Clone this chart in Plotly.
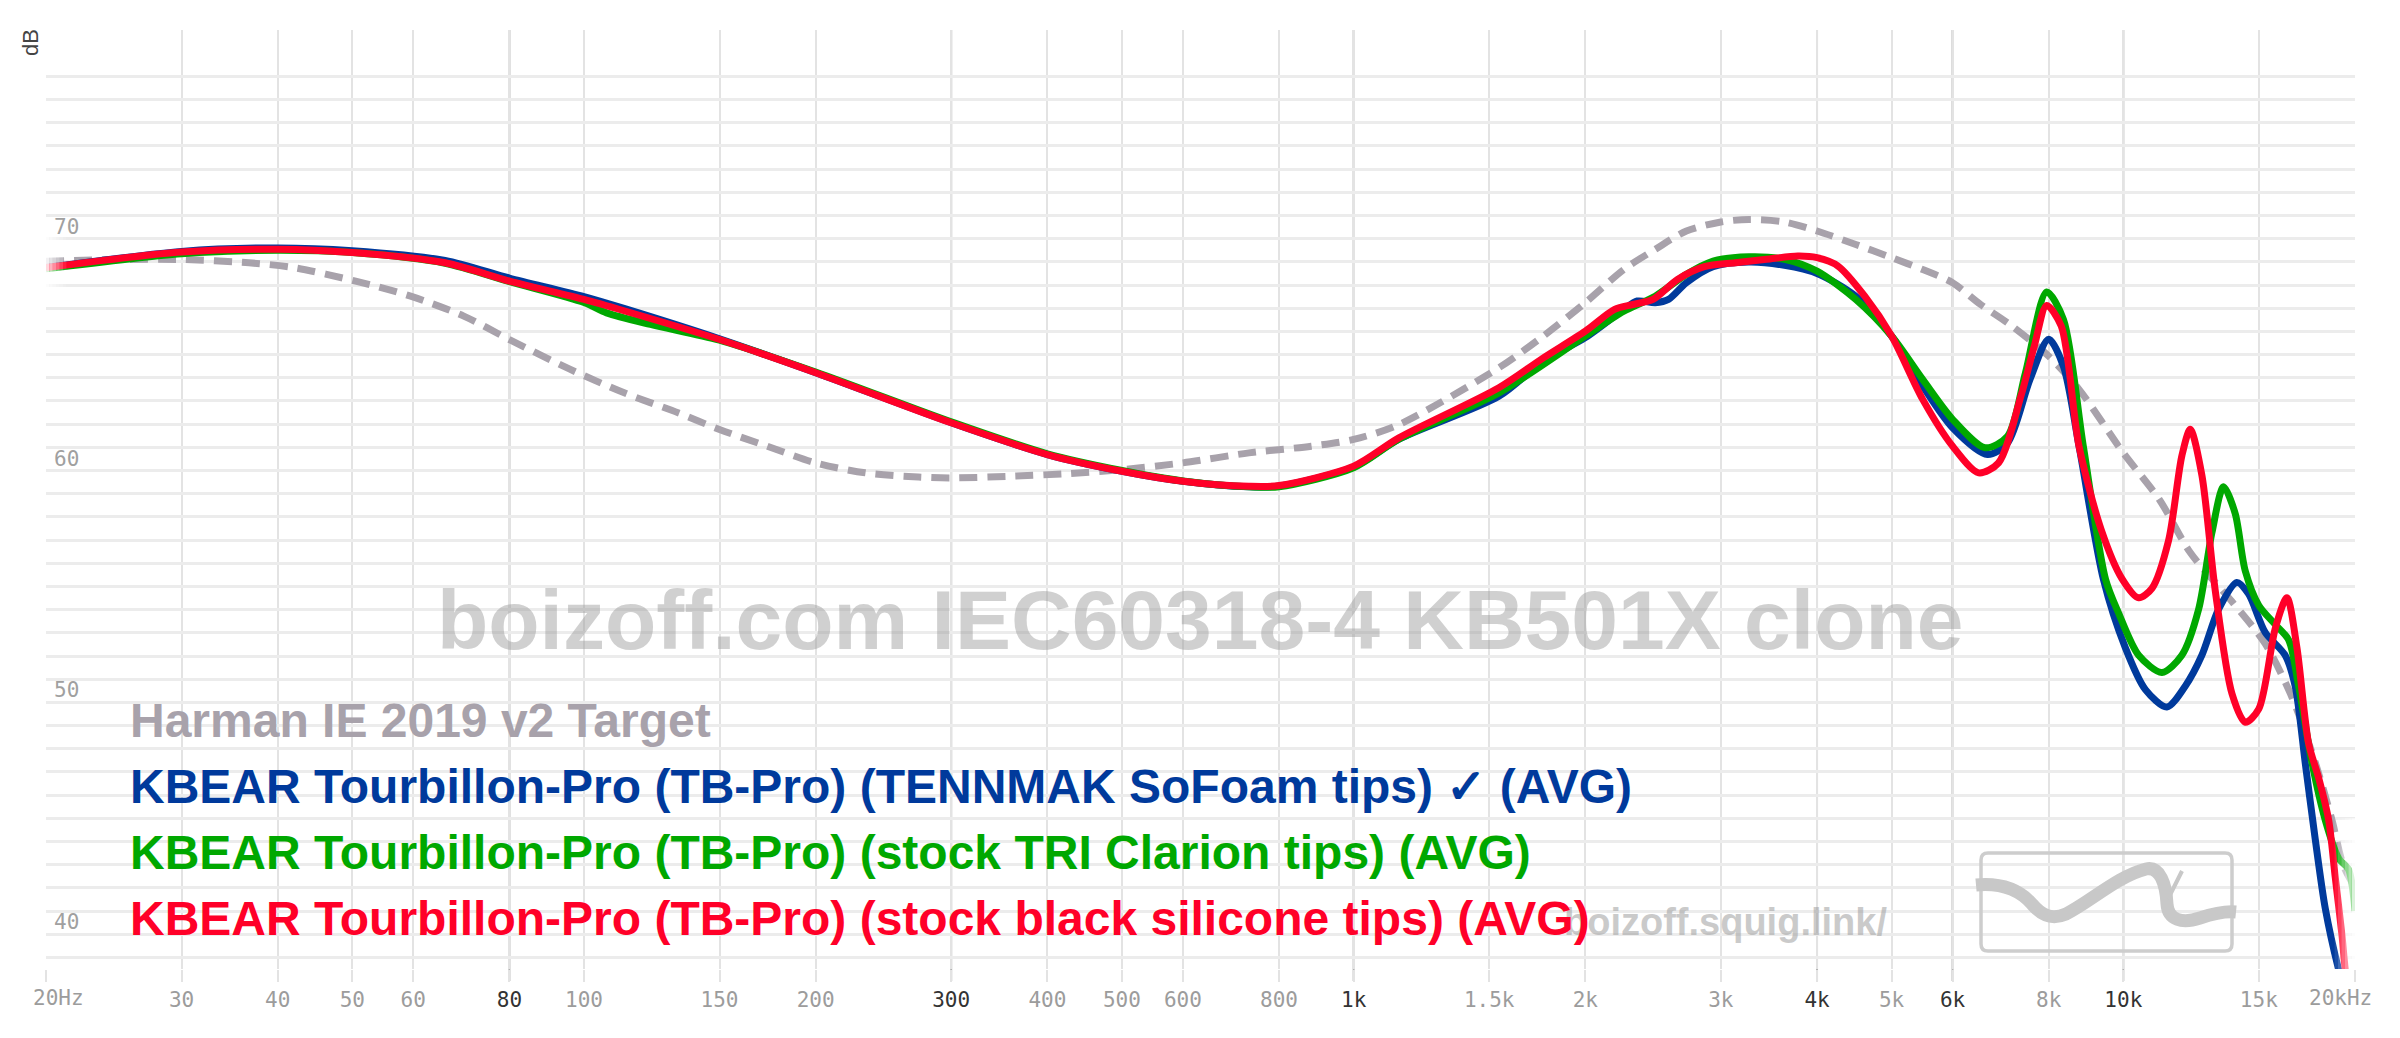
import numpy as np
import plotly.graph_objects as go

# ---- data (Hz, dB) ----
target_freq = [20, 24.6, 30.2, 36.7, 42, 50.5, 59.4, 69.8, 80, 96, 112.8, 132.5, 150, 173, 200, 232, 272,
               300, 356, 428, 500, 600, 731, 881, 1000, 1145, 1544, 1764, 2000, 2244, 2465, 2706, 3000,
               3262, 3629, 4000, 4491, 5000, 5487, 6000, 6525, 7168, 8000, 8759, 10000, 11137, 12223,
               13840, 15287, 16564, 17756, 18665, 19300, 20000]
target_db = [69.03, 69.1, 69.1, 68.96, 68.75, 68.17, 67.53, 66.66, 65.65, 64.36, 63.35, 62.49, 61.77,
             61.05, 60.33, 59.9, 59.72, 59.68, 59.75, 59.87, 60.04, 60.33, 60.76, 61.05, 61.34, 61.98,
             64.43, 65.8, 67.24, 68.67, 69.54, 70.33, 70.72, 70.83, 70.72, 70.33, 69.75, 69.18, 68.67,
             68.1, 67.16, 66.23, 64.93, 63.5, 60.76, 58.75, 56.45, 54.35, 52.53, 50.22, 47.41, 44.94,
             43.0, 42.0]

foam_freq = [20, 30, 40, 50, 66, 80, 100, 113, 150, 200, 300, 400, 500, 600, 731, 800, 1000, 1145,
             1544, 1764, 2000, 2244, 2336, 2465, 2565, 2706, 2931, 3262, 3629, 4000, 4491, 5000, 5487,
             6000, 6661, 7074, 7564, 8000, 8360, 8759, 9424, 10060, 10683, 11393, 12040, 12649, 13296,
             14045, 14543, 15287, 16230, 16721, 17230, 17756, 18295, 19040, 20000]
foam_db = [68.75, 69.45, 69.6, 69.48, 69.06, 68.3, 67.5, 66.98, 65.68, 64.22, 62.06, 60.69, 59.97,
           59.54, 59.3, 59.33, 60.15, 61.35, 63.2, 64.72, 65.73, 66.95, 67.31, 67.24, 67.38, 68.1,
           68.79, 68.99, 68.85, 68.5, 67.52, 65.8, 63.64, 61.84, 60.69, 61.19, 63.93, 65.66, 64.5,
           61.05, 55.29, 52.36, 50.55, 49.8, 50.71, 52.03, 54.01, 55.17, 54.68, 53.02, 52.03, 50.71,
           47.41, 44.11, 41.13, 38.49, 36.0]

clarion_freq = [20, 30, 40, 50, 66, 80, 100, 107, 122, 150, 200, 300, 400, 500, 600, 731, 800, 1000,
                1145, 1544, 2000, 2244, 2465, 2706, 2931, 3262, 3629, 4000, 4491, 5000, 5487, 6000,
                6615, 7074, 7463, 7951, 8360, 8872, 9486, 9860, 10470, 11224, 11914, 12526, 13034,
                13497, 13977, 14403, 15000, 15756, 16400, 16893, 17580, 18295, 19040, 19620, 20000]
clarion_db = [68.7, 69.35, 69.5, 69.4, 68.94, 68.15, 67.25, 66.8, 66.3, 65.62, 64.25, 62.1, 60.72,
              60.0, 59.55, 59.3, 59.3, 60.12, 61.35, 63.35, 65.8, 66.87, 67.52, 68.46, 69.03, 69.22,
              69.11, 68.6, 67.38, 65.8, 63.93, 62.21, 60.98, 61.48, 64.22, 67.7, 66.52, 61.05, 55.29,
              53.85, 52.03, 51.29, 52.03, 54.01, 57.31, 59.3, 58.14, 55.67, 54.18, 53.36, 52.69, 50.71,
              47.41, 44.93, 43.28, 42.79, 41.0]

silicone_freq = [20, 30, 40, 50, 66, 80, 100, 113, 150, 200, 300, 400, 500, 600, 731, 800, 1000, 1145,
                 1544, 1764, 2000, 2183, 2306, 2449, 2635, 2855, 3133, 3440, 3776, 4000, 4259, 4614,
                 5000, 5487, 6000, 6486, 6885, 7362, 7663, 7951, 8305, 8759, 9364, 9958, 10470, 10895,
                 11451, 11914, 12218, 12649, 13164, 13840, 14403, 15000, 15756, 16315, 16810, 17408,
                 17937, 18482, 18853, 19234, 19428, 20000]
silicone_db = [68.75, 69.42, 69.54, 69.4, 68.96, 68.17, 67.38, 66.88, 65.65, 64.22, 62.06, 60.69,
               59.97, 59.54, 59.32, 59.35, 60.19, 61.41, 63.57, 64.86, 66.01, 66.95, 67.16, 67.38,
               68.24, 68.79, 68.96, 69.11, 69.25, 69.18, 68.82, 67.52, 65.8, 63.07, 61.05, 59.9,
               60.33, 63.21, 65.37, 67.12, 66.23, 61.05, 57.43, 55.34, 54.51, 54.92, 56.99, 60.63,
               61.78, 59.8, 54.84, 50.38, 49.14, 49.72, 53.19, 54.51, 52.36, 48.23, 46.75, 44.93,
               42.45, 39.97, 38.49, 36.0]

names = ["Harman IE 2019 v2 Target",
         "KBEAR Tourbillon-Pro (TB-Pro) (TENNMAK SoFoam tips) \u2713 (AVG)",
         "KBEAR Tourbillon-Pro (TB-Pro) (stock TRI Clarion tips) (AVG)",
         "KBEAR Tourbillon-Pro (TB-Pro) (stock black silicone tips) (AVG)"]
colors = ["#a8a2ab", "#003a9c", "#00a800", "#ff0028"]

tick_freqs = [20, 30, 40, 50, 60, 80, 100, 150, 200, 300, 400, 500, 600, 800,
              1000, 1500, 2000, 3000, 4000, 5000, 6000, 8000, 10000, 15000, 20000]
tick_labels = ["", "30", "40", "50", "60", "80", "100", "150", "200", "300", "400", "500", "600", "800",
               "1k", "1.5k", "2k", "3k", "4k", "5k", "6k", "8k", "10k", "15k", ""]
major_freqs = [80, 300, 1000, 4000, 6000, 10000]
y_labels = [40, 50, 60, 70]

# ---- figure ----
# the page body has an 8px margin, so the figure sits 8px right/down in the screenshot
OFF = 8
W, H = 2400, 1038
ML, MT = 38, 22
MR, MB = 53, 77
PW, PH = W - ML - MR, H - MT - MB


def paper(x, y):
    # position in the screenshot (px) -> paper coordinates
    return (x - OFF - ML) / PW, (H - MB - (y - OFF)) / PH


fig = go.Figure()
series = [(target_freq, target_db), (foam_freq, foam_db), (clarion_freq, clarion_db),
          (silicone_freq, silicone_db)]
for i, (f, d) in enumerate(series):
    line = dict(color=colors[i], width=7, shape="spline", smoothing=0.8)
    if i == 0:
        line["dash"] = "18px,10px"
    fig.add_trace(go.Scatter(x=f, y=d, mode="lines", line=line, name=names[i],
                             hoverinfo="skip", showlegend=False))

ticktext = []
for f, t in zip(tick_freqs, tick_labels):
    if f in major_freqs:
        ticktext.append("<span style='color:#333333'>" + t + "</span>")
    else:
        ticktext.append(t)

fig.update_xaxes(type="log", range=[np.log10(20), np.log10(20000)],
                 tickmode="array", tickvals=tick_freqs, ticktext=ticktext,
                 showgrid=True, gridcolor="#e3e3e3", gridwidth=2,
                 ticks="outside", ticklen=12, tickwidth=2, tickcolor="#e3e3e3",
                 tickfont=dict(family="DejaVu Sans Mono", size=21, color="#9c9c9c"),
                 zeroline=False, showline=False)
fig.update_yaxes(range=[38.5, 79], tickmode="array", tickvals=list(range(39, 78)),
                 showticklabels=False, showgrid=True, gridcolor="#ececec", gridwidth=2.5,
                 zeroline=False, showline=False)

shapes = []
for f in major_freqs:
    shapes.append(dict(type="line", xref="x", yref="paper", x0=f, x1=f, y0=-12 / PH, y1=1,
                       line=dict(color="#b2b2b2", width=2), layer="between"))

# fade of the curves at both ends
x_left = OFF + ML
x_right = OFF + ML + PW
for k, op in enumerate([0.85, 0.7, 0.55, 0.4, 0.25, 0.1]):
    x0, _ = paper(x_left + k * 3.4, 0)
    x1, _ = paper(x_left + (k + 1) * 3.4, 0)
    shapes.append(dict(type="rect", xref="paper", yref="y", x0=x0, x1=x1, y0=67.3, y1=70.6,
                       line=dict(width=0), fillcolor="white", opacity=op, layer="above"))
    x0, _ = paper(x_right - (k + 1) * 3.4, 0)
    x1, _ = paper(x_right - k * 3.4, 0)
    shapes.append(dict(type="rect", xref="paper", yref="y", x0=x0, x1=x1, y0=38.5, y1=45,
                       line=dict(width=0), fillcolor="white", opacity=op, layer="above"))


# logo: rounded box with squiggle
def path(cmds):
    out = []
    for c in cmds:
        if isinstance(c, str):
            out.append(c)
        else:
            px, py = paper(*c)
            out.append("%.5f,%.5f" % (px, py))
    return " ".join(out)


r = 7
bx0, by0, bx1, by1 = 1981, 853, 2232, 951
box = path(["M", (bx0 + r, by0), "L", (bx1 - r, by0), "Q", (bx1, by0), (bx1, by0 + r),
            "L", (bx1, by1 - r), "Q", (bx1, by1), (bx1 - r, by1), "L", (bx0 + r, by1),
            "Q", (bx0, by1), (bx0, by1 - r), "L", (bx0, by0 + r), "Q", (bx0, by0), (bx0 + r, by0), "Z"])
shapes.append(dict(type="path", xref="paper", yref="paper", path=box,
                   line=dict(color="#cdcdcd", width=3.5)))
squiggle = path(["M", (1976, 885), "C", (1998, 883), (2018, 888), (2032, 904),
                 "C", (2042, 916), (2052, 920), (2066, 914),
                 "C", (2090, 902), (2118, 876), (2146, 869),
                 "C", (2160, 866), (2166, 884), (2167, 904),
                 "C", (2168, 920), (2182, 924), (2200, 918),
                 "C", (2215, 913), (2226, 911), (2236, 912)])
shapes.append(dict(type="path", xref="paper", yref="paper", path=squiggle,
                   line=dict(color="#c8c8c8", width=13)))
shapes.append(dict(type="path", xref="paper", yref="paper",
                   path=path(["M", (2182, 871), "L", (2168, 899)]),
                   line=dict(color="#c8c8c8", width=4)))

annotations = []
for v in y_labels:
    annotations.append(dict(x=0, xref="paper", xanchor="left", xshift=6, y=v, yref="y",
                            yanchor="middle", yshift=12, text=str(v), showarrow=False,
                            font=dict(family="DejaVu Sans Mono", size=21, color="#a0a0a0")))
annotations.append(dict(x=np.log10(20), xref="x", xanchor="left", xshift=-15, y=0, yref="paper",
                        yanchor="middle", yshift=-29, text="20Hz", showarrow=False,
                        font=dict(family="DejaVu Sans Mono", size=21, color="#9c9c9c")))
annotations.append(dict(x=np.log10(20000), xref="x", xanchor="right", xshift=19, y=0, yref="paper",
                        yanchor="middle", yshift=-29, text="20kHz", showarrow=False,
                        font=dict(family="DejaVu Sans Mono", size=21, color="#9c9c9c")))
dx, dy = paper(31, 43)
annotations.append(dict(x=dx, y=dy, xref="paper", yref="paper", text="dB", textangle=-90,
                        xanchor="center", yanchor="middle", showarrow=False,
                        font=dict(family="Liberation Sans", size=22, color="#444444")))

wx, wy = paper(1200, 620)
annotations.append(dict(x=wx, y=wy, xref="paper", yref="paper", text="boizoff.com IEC60318-4 KB501X clone",
                        showarrow=False, xanchor="center", yanchor="middle",
                        font=dict(family="Liberation Sans", size=84, color="rgba(150,150,150,0.45)",
                                  weight="bold")))
sx, sy = paper(1562, 922)
annotations.append(dict(x=sx, y=sy, xref="paper", yref="paper", text="boizoff.squig.link/",
                        showarrow=False, xanchor="left", yanchor="middle",
                        font=dict(family="Liberation Sans", size=38, color="rgba(150,150,150,0.5)",
                                  weight="bold")))

legend_y = [720, 786, 852, 918]
for i, name in enumerate(names):
    lx, ly = paper(128, legend_y[i])
    annotations.append(dict(x=lx, y=ly, xref="paper", yref="paper", text=name, showarrow=False,
                            xanchor="left", yanchor="middle",
                            font=dict(family="Liberation Sans", size=48, color=colors[i], weight="bold")))

fig.update_layout(width=W, height=H, margin=dict(l=ML, r=MR, t=MT, b=MB),
                  paper_bgcolor="white", plot_bgcolor="white",
                  shapes=shapes, annotations=annotations, showlegend=False)

fig.write_html("out.html")
